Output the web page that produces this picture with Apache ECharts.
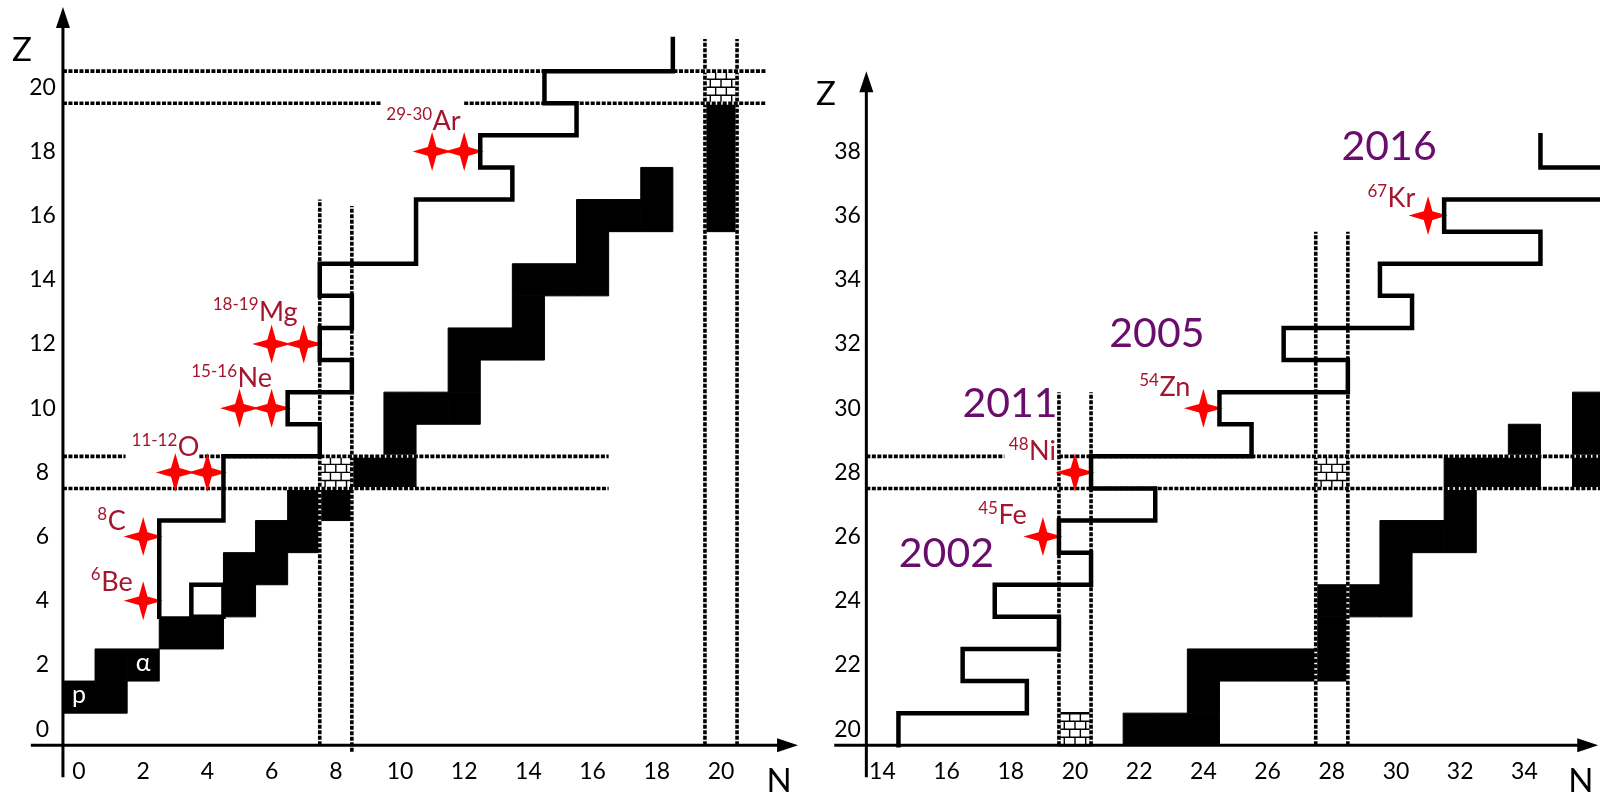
<!DOCTYPE html>
<html><head><meta charset="utf-8">
<script src="https://cdn.jsdelivr.net/npm/echarts@6/dist/echarts.min.js"></script>
<style>html,body{margin:0;padding:0;background:#fff}#c{width:1600px;height:793px}</style>
</head><body><div id="c"></div><script>
// ================= DATA =================
// Left panel (N 0..20, Z 0..21)
const leftStable = [[0,1],[1,1],[1,2],[2,2],[3,3],[4,3],[5,4],[5,5],[6,5],[6,6],[7,6],[7,7],[8,7],
  [9,8],[10,8],[10,9],[10,10],[11,10],[12,10],[12,11],[12,12],[13,12],[14,12],[14,13],[14,14],[15,14],[16,14],
  [16,15],[16,16],[17,16],[18,16],[18,17],[20,16],[20,17],[20,18],[20,19]];
const leftMagic = [[8,8],[20,20]];
const leftUnbound = [[4,4]];
const leftDripLine = [[2.5,3.5],[2.5,6.5],[4.5,6.5],[4.5,8.5],[7.5,8.5],[7.5,9.5],[6.5,9.5],[6.5,10.5],
  [8.5,10.5],[8.5,11.5],[7.5,11.5],[7.5,12.5],[8.5,12.5],[8.5,13.5],[7.5,13.5],[7.5,14.5],[10.5,14.5],
  [10.5,16.5],[13.5,16.5],[13.5,17.5],[12.5,17.5],[12.5,18.5],[15.5,18.5],[15.5,19.5],[14.5,19.5],
  [14.5,20.5],[18.5,20.5],[18.5,21.5]];
const leftEmitters = [[2,4],[2,6],[3,8],[4,8],[5,10],[6,10],[6,12],[7,12],[11,18],[12,18]];
const leftIsotopeLabels = [[2,4,'6','Be'],[2,6,'8','C'],[3,8,'11-12','O'],[5,10,'15-16','Ne'],[6,12,'18-19','Mg'],[11,18,'29-30','Ar']];
const leftGuides = [[7.5,-0.5,7.5,16.5],[8.5,-0.7,8.5,16.3],[19.5,-0.5,19.5,21.5],[20.5,-0.5,20.5,21.5],
  [-0.5,7.5,16.5,7.5],[-0.5,8.5,1.45,8.5],[3.75,8.5,16.5,8.5],
  [-0.5,19.5,9.4,19.5],[12,19.5,21.4,19.5],[-0.5,20.5,21.4,20.5]];
const leftParticles = [[0,1,'p'],[2,2,'α']];
const leftXTicks = [0,2,4,6,8,10,12,14,16,18,20];
const leftYTicks = [0,2,4,6,8,10,12,14,16,18,20];

// Right panel (N 14..36, Z 20..38)
const rightStable = [[22,20],[23,20],[24,20],[24,21],[24,22],[25,22],[26,22],[27,22],[28,22],[28,23],
  [28,24],[29,24],[30,24],[30,25],[30,26],[31,26],[32,26],[32,27],[32,28],[33,28],[34,28],[34,29],
  [36,28],[36,29],[36,30]];
const rightMagic = [[20,20],[28,28]];
const rightDripLine = [[14.5,19.5],[14.5,20.5],[18.5,20.5],[18.5,21.5],[16.5,21.5],[16.5,22.5],[19.5,22.5],
  [19.5,23.5],[17.5,23.5],[17.5,24.5],[20.5,24.5],[20.5,25.5],[19.5,25.5],[19.5,26.5],[22.5,26.5],
  [22.5,27.5],[20.5,27.5],[20.5,28.5],[25.5,28.5],[25.5,29.5],[24.5,29.5],[24.5,30.5],[28.5,30.5],
  [28.5,31.5],[26.5,31.5],[26.5,32.5],[30.5,32.5],[30.5,33.5],[29.5,33.5],[29.5,34.5],[34.5,34.5],
  [34.5,35.5],[31.5,35.5],[31.5,36.5],[37,36.5]];
const rightDripLine2 = [[34.5,38.5],[34.5,37.5],[37,37.5]];
const rightEmitters = [[19,26],[20,28],[24,30],[31,36]];
const rightIsotopeLabels = [[19,26,'45','Fe'],[20,28,'48','Ni'],[24,30,'54','Zn'],[31,36,'67','Kr']];
const rightYears = [[19,26,'2002'],[20,28,'2011'],[24,30,'2005'],[31,36,'2016']];
const rightGuides = [[19.5,19.5,19.5,30.5],[20.5,19.5,20.5,30.5],[27.5,19.5,27.5,35.5],[28.5,19.5,28.5,35.5],
  [13.5,28.5,17.8,28.5],[19.5,28.5,37,28.5],[13.5,27.5,37,27.5]];
const rightXTicks = [14,16,18,20,22,24,26,28,30,32,34];
const rightYTicks = [20,22,24,26,28,30,32,34,36,38];

// ================= LAYOUT / STYLE =================
const FONT = 'Lato, "Open Sans", "DejaVu Sans", sans-serif';
const LABEL_RED = '#A3162E', YEAR_PURPLE = '#6A0C6C';
const layout = {
  leftAxes: [[-1.5,-0.5,22.4,-0.5],[-0.5,-1.5,-0.5,22.5]],
  rightAxes: [[12.5,19.5,36.3,19.5],[13.5,18.5,13.5,40.5]],
  leftNames: [[-1.78,21.16,'Z'],[21.81,-1.61,'N']],
  rightNames: [[12.24,39.77,'Z'],[35.76,18.39,'N']],
  leftLabelOff: [[-42,-19],[-35.5,-15],[2.5,-25],[-2,-29.5],[-12.6,-32],[0.5,-30]],
  rightLabelOff: [[-44.5,-21.5],[-46,-21],[-44,-21],[-40.5,-17.5]],
  yearOff: [[-96.5,17.5],[-65,-69],[-46.5,-74.5],[-39,-69]]
};

const STAR = 'path://M0,-50 L11,-11 L50,0 L11,11 L0,50 L-11,11 L-50,0 L-11,-11 Z';

function cellRect(api, n, z){
  const a = api.coord([n-0.5, z+0.5]), b = api.coord([n+0.5, z-0.5]);
  return {x:a[0], y:a[1], width:b[0]-a[0], height:b[1]-a[1]};
}
function stableSeries(data, i){
  return {type:'custom', xAxisIndex:i, yAxisIndex:i, data, silent:true, clip:false,
    renderItem:(p, api)=>({type:'rect', shape:cellRect(api, api.value(0), api.value(1)),
      style:{fill:'#000', stroke:'#000', lineWidth:1}})};
}
function unboundSeries(data, i){
  return {type:'custom', xAxisIndex:i, yAxisIndex:i, data, silent:true, clip:false,
    renderItem:(p, api)=>({type:'rect', shape:cellRect(api, api.value(0), api.value(1)),
      style:{fill:'#fff', stroke:'#000', lineWidth:4.5}})};
}
function brickSeries(data, i){
  return {type:'custom', xAxisIndex:i, yAxisIndex:i, data, silent:true, clip:false,
    renderItem:(p, api)=>{
      const r = cellRect(api, api.value(0), api.value(1));
      const ch = [{type:'rect', shape:r, style:{fill:'#fff', stroke:'#000', lineWidth:2.5}}];
      const rows = 4, h = r.height/rows;
      for (let k=1;k<rows;k++) ch.push({type:'line', shape:{x1:r.x, y1:r.y+k*h, x2:r.x+r.width, y2:r.y+k*h}, style:{stroke:'#000', lineWidth:1.4}});
      for (let k=0;k<rows;k++){
        const js = k%2 ? [1/6,1/2,5/6] : [1/3,2/3];
        js.forEach(f=>ch.push({type:'line', shape:{x1:r.x+f*r.width, y1:r.y+k*h, x2:r.x+f*r.width, y2:r.y+(k+1)*h}, style:{stroke:'#000', lineWidth:1.4}}));
      }
      return {type:'group', children:ch};
    }};
}
function guideSeries(data, i){
  return {type:'custom', xAxisIndex:i, yAxisIndex:i, data, silent:true, clip:false,
    renderItem:(p, api)=>{
      const a = api.coord([api.value(0), api.value(1)]), b = api.coord([api.value(2), api.value(3)]);
      const sh = {x1:a[0], y1:a[1], x2:b[0], y2:b[1]};
      return {type:'group', children:[
        {type:'line', shape:sh, style:{stroke:'#fff', lineWidth:3}},
        {type:'line', shape:sh, style:{stroke:'#000', lineWidth:3.6, lineDash:[4,1.5]}}]};
    }};
}
function dripSeries(data, i){
  return {type:'line', xAxisIndex:i, yAxisIndex:i, data, symbol:'none', silent:true, clip:false,
    lineStyle:{color:'#000', width:4.5, join:'miter', cap:'square'}};
}
function axisSeries(data, i){
  return {type:'custom', xAxisIndex:i, yAxisIndex:i, data, silent:true, clip:false,
    renderItem:(p, api)=>{
      const a = api.coord([api.value(0), api.value(1)]), b = api.coord([api.value(2), api.value(3)]);
      const dx=b[0]-a[0], dy=b[1]-a[1], len=Math.hypot(dx,dy), ux=dx/len, uy=dy/len;
      const L=21, W=7, bx=b[0]-ux*L, by=b[1]-uy*L;
      return {type:'group', children:[
        {type:'line', shape:{x1:a[0], y1:a[1], x2:bx+ux*2, y2:by+uy*2}, style:{stroke:'#000', lineWidth:3}},
        {type:'polygon', shape:{points:[[b[0],b[1]],[bx-uy*W, by+ux*W],[bx+uy*W, by-ux*W]]}, style:{fill:'#000'}}]};
    }};
}
function starSeries(data, i){
  return {type:'scatter', xAxisIndex:i, yAxisIndex:i, data, symbol:STAR, symbolSize:39, silent:true, clip:false,
    itemStyle:{color:'#FF0000', opacity:1}};
}
function isoLabelSeries(labels, offs, i){
  return {type:'custom', xAxisIndex:i, yAxisIndex:i, data:labels.map(l=>[l[0],l[1]]), silent:true, clip:false,
    renderItem:(p, api)=>{
      const l = labels[p.dataIndex], o = offs[p.dataIndex];
      const c = api.coord([api.value(0), api.value(1)]);
      const x = c[0]+o[0], y = c[1]+o[1];
      return {type:'group', children:[
        {type:'text', style:{text:l[3], x:x, y:y, align:'left', verticalAlign:'middle', fontSize:27, fontFamily:FONT, fill:LABEL_RED}},
        {type:'text', style:{text:l[2], x:x-0.5, y:y-7, align:'right', verticalAlign:'middle', fontSize:17, fontFamily:FONT, fill:LABEL_RED}}]};
    }};
}
function yearSeries(labels, offs, i){
  return {type:'custom', xAxisIndex:i, yAxisIndex:i, data:labels.map(l=>[l[0],l[1]]), silent:true, clip:false,
    renderItem:(p, api)=>{
      const c = api.coord([api.value(0), api.value(1)]), o = offs[p.dataIndex];
      return {type:'text', style:{text:labels[p.dataIndex][2], x:c[0]+o[0], y:c[1]+o[1], align:'center', verticalAlign:'middle',
        fontSize:41, fontFamily:FONT, fill:YEAR_PURPLE}};
    }};
}
function textSeries(items, i, size, color, dy){
  return {type:'custom', xAxisIndex:i, yAxisIndex:i, data:items.map(t=>[t[0],t[1]]), silent:true, clip:false,
    renderItem:(p, api)=>{
      const c = api.coord([api.value(0), api.value(1)]);
      return {type:'text', style:{text:items[p.dataIndex][2], x:c[0], y:c[1]+dy, align:'center', verticalAlign:'middle',
        fontSize:size, fontFamily:FONT, fill:color}};
    }};
}
function tickFormatter(ticks){ return v => ticks.indexOf(v) >= 0 ? String(v) : ''; }
const U = 32.1;
function xAxisCfg(i, min, max, ticks){
  return {gridIndex:i, type:'value', min, max, interval:1, axisLine:{show:false}, axisTick:{show:false}, splitLine:{show:false},
    axisLabel:{formatter:tickFormatter(ticks), margin:-1, fontSize:23, fontFamily:FONT, color:'#000'}};
}
function yAxisCfg(i, min, max, ticks, margin){
  return {gridIndex:i, type:'value', min, max, interval:1, axisLine:{show:false}, axisTick:{show:false}, splitLine:{show:false},
    axisLabel:{formatter:tickFormatter(ticks), margin, align:'center', padding:[8,0,0,0], fontSize:23, fontFamily:FONT, color:'#000'}};
}

const chart = echarts.init(document.getElementById('c'), null, {renderer:'canvas'});
chart.setOption({
  animation:false,
  backgroundColor:'#fff',
  grid:[
    {left:79-1*U, top:729.2-22.5*U, width:23.5*U, height:23.5*U, containLabel:false, outerBoundsMode:'none'},
    {left:1075-7*U, top:729.2-20.5*U, width:24*U, height:21.5*U, containLabel:false, outerBoundsMode:'none'}
  ],
  xAxis:[xAxisCfg(0,-1,22.5,leftXTicks), xAxisCfg(1,13,37,rightXTicks)],
  yAxis:[yAxisCfg(0,-1,22.5,leftYTicks,4.4), yAxisCfg(1,19,40.5,rightYTicks,2.8)],
  series:[
    unboundSeries(leftUnbound,0),
    stableSeries(leftStable,0), stableSeries(rightStable,1),
    brickSeries(leftMagic,0), brickSeries(rightMagic,1),
    guideSeries(leftGuides,0), guideSeries(rightGuides,1),
    dripSeries(leftDripLine,0), dripSeries(rightDripLine,1), dripSeries(rightDripLine2,1),
    axisSeries(layout.leftAxes,0), axisSeries(layout.rightAxes,1),
    starSeries(leftEmitters,0), starSeries(rightEmitters,1),
    isoLabelSeries(leftIsotopeLabels, layout.leftLabelOff, 0),
    isoLabelSeries(rightIsotopeLabels, layout.rightLabelOff, 1),
    yearSeries(rightYears, layout.yearOff, 1),
    textSeries(leftParticles, 0, 25, '#fff', -2),
    textSeries(layout.leftNames, 0, 33, '#000', 0),
    textSeries(layout.rightNames, 1, 33, '#000', 0)
  ]
});
</script></body></html>
